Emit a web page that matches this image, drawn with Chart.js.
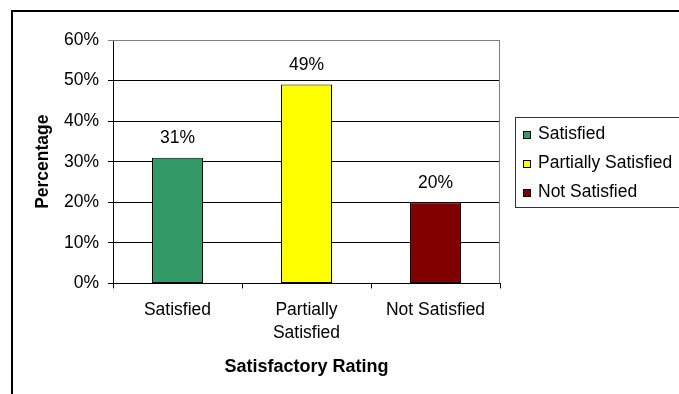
<!DOCTYPE html>
<html>
<head>
<meta charset="utf-8">
<title>Satisfactory Rating</title>
<script src="https://cdn.jsdelivr.net/npm/chart.js"></script>
<style>
  html, body { margin: 0; padding: 0; background: #fff; overflow: hidden; }
  #wrap { position: relative; width: 679px; height: 394px; }
  #frame {
    position: absolute; left: 11px; top: 10px;
    width: 800px; height: 500px;
    border: 2px solid #000; pointer-events: none;
  }
</style>
</head>
<body>
<div id="wrap">
  <canvas id="ratingChart" width="679" height="394"></canvas>
  <div id="frame"></div>
</div>
<script>
// rating categories and their share of responses (%)
const categories = ['Satisfied', 'Partially Satisfied', 'Not Satisfied'];
const axisLabels = [['Satisfied'], ['Partially', 'Satisfied'], ['Not Satisfied']];
const percentages = [31, 49, 20];
const barColors = ['#339966', '#FFFF00', '#800000'];
const yTicks = [0, 10, 20, 30, 40, 50, 60];

const FONT = '"Liberation Sans", Arial, sans-serif';
const TEXT_SIZE = 17.5;

// gray frame on the top and right side of the plot area
const plotFrame = {
  id: 'plotFrame',
  beforeDatasetsDraw(chart) {
    const { ctx, chartArea: a } = chart;
    const t = Math.round(a.top) + 0.5;
    const r = Math.round(a.right) - 0.5;
    ctx.save();
    ctx.strokeStyle = '#808080';
    ctx.lineWidth = 1;
    ctx.beginPath();
    ctx.moveTo(a.left, t);
    ctx.lineTo(r, t);
    ctx.lineTo(r, a.bottom);
    ctx.stroke();
    ctx.restore();
  }
};

// percentage written above each bar
const valueLabels = {
  id: 'valueLabels',
  afterDatasetsDraw(chart) {
    const { ctx } = chart;
    const meta = chart.getDatasetMeta(0);
    ctx.save();
    ctx.font = TEXT_SIZE + 'px ' + FONT;
    ctx.fillStyle = '#000';
    ctx.textAlign = 'center';
    ctx.textBaseline = 'middle';
    meta.data.forEach((bar, i) => {
      ctx.fillText(percentages[i] + '%', bar.x, bar.y - 19);
    });
    ctx.restore();
  }
};

// boxed legend to the right of the plot, one row per category
const boxLegend = {
  id: 'boxLegend',
  afterDraw(chart) {
    const { ctx, chartArea: a } = chart;
    const left = Math.round(a.right) + 15;
    const midY = (a.top + a.bottom) / 2;
    const rowH = 29;
    ctx.save();
    ctx.strokeStyle = '#333';
    ctx.lineWidth = 1;
    ctx.strokeRect(left + 0.5, Math.round(midY - 45) + 0.5, 300, 90);
    ctx.font = TEXT_SIZE + 'px ' + FONT;
    ctx.textAlign = 'left';
    ctx.textBaseline = 'middle';
    categories.forEach((name, i) => {
      const y = Math.round(midY + (i - 1) * rowH);
      ctx.fillStyle = barColors[i];
      ctx.fillRect(left + 8, y - 2, 7, 7);
      ctx.strokeStyle = '#000';
      ctx.strokeRect(left + 8.5, y - 1.5, 7, 7);
      ctx.fillStyle = '#000';
      ctx.fillText(name, left + 23, y + 1);
    });
    ctx.restore();
  }
};

new Chart(document.getElementById('ratingChart'), {
  type: 'bar',
  data: {
    labels: axisLabels,
    datasets: [{
      data: percentages,
      backgroundColor: barColors,
      borderColor: '#000',
      borderWidth: 1,
      borderSkipped: false,
      categoryPercentage: 1,
      barPercentage: 0.395
    }]
  },
  options: {
    responsive: false,
    animation: false,
    devicePixelRatio: 1,
    layout: { padding: { left: 33, top: 40, right: 179, bottom: 0 } },
    plugins: {
      legend: { display: false },
      tooltip: { enabled: false }
    },
    scales: {
      x: {
        offset: true,
        grid: { drawOnChartArea: false, drawTicks: true, tickLength: 5, color: '#000' },
        border: { color: '#000', width: 1 },
        ticks: {
          color: '#000', padding: 10,
          font: { family: FONT, size: TEXT_SIZE, lineHeight: 1.343 }
        },
        title: {
          display: true, text: 'Satisfactory Rating', color: '#000',
          font: { family: FONT, size: 18, weight: 'bold' },
          padding: { top: 1, bottom: 16 }
        }
      },
      y: {
        min: yTicks[0],
        max: yTicks[yTicks.length - 1],
        afterBuildTicks(scale) {
          scale.ticks = yTicks.map(v => ({ value: v }));
        },
        afterFit(scale) { scale.width = 80; },
        grid: {
          tickLength: 5,
          color: ctx => ctx.tick && ctx.tick.value === yTicks[yTicks.length - 1] ? '#808080' : '#000'
        },
        border: { color: '#000', width: 1 },
        ticks: {
          color: '#000', padding: 9,
          font: { family: FONT, size: TEXT_SIZE },
          callback: v => v + '%'
        },
        title: {
          display: true, text: 'Percentage', color: '#000',
          font: { family: FONT, size: 17.5, weight: 'bold' },
          padding: { top: 0, bottom: 0 }
        }
      }
    }
  },
  plugins: [plotFrame, valueLabels, boxLegend]
});
</script>
</body>
</html>
